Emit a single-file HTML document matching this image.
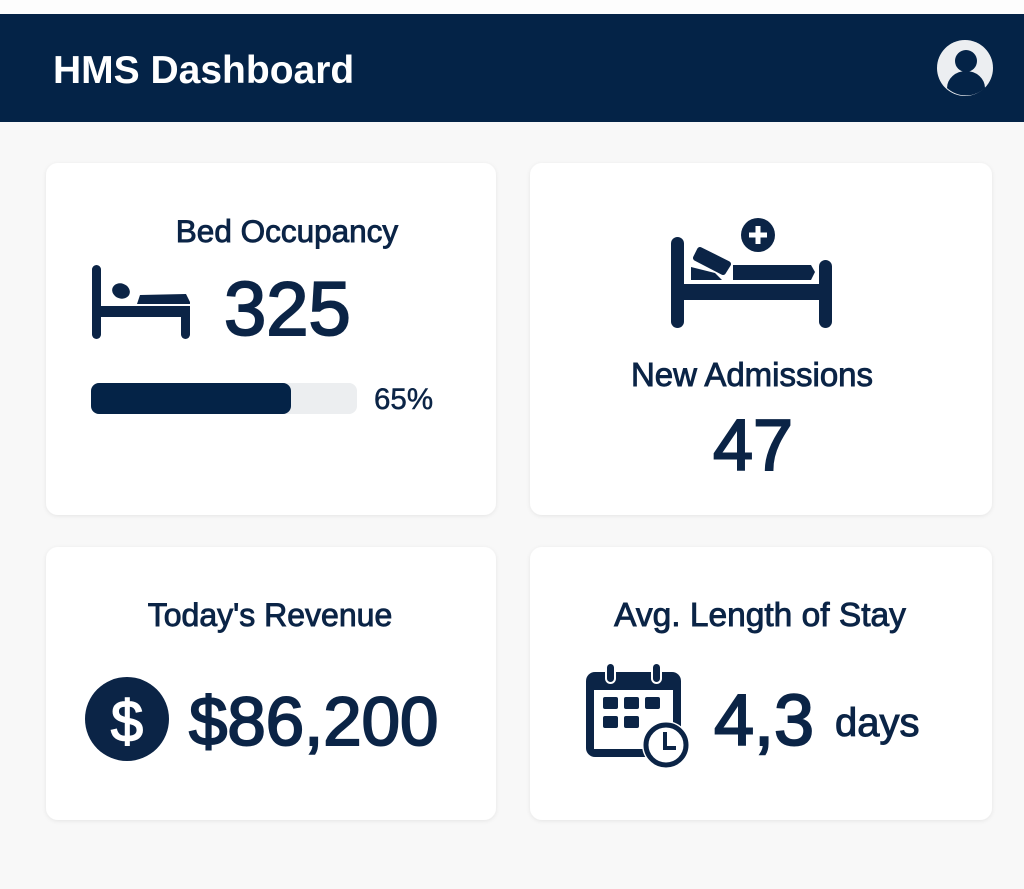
<!DOCTYPE html>
<html><head><meta charset="utf-8"><style>
html,body{margin:0;padding:0;background:#f8f8f8;}
svg{display:block}
text{font-family:"Liberation Sans",Arial,sans-serif;fill:#0b2446;stroke:#0b2446;stroke-width:0.9}
</style></head><body>
<svg width="1024" height="889" viewBox="0 0 1024 889" xmlns="http://www.w3.org/2000/svg">
<defs>
<filter id="sh" x="-5%" y="-5%" width="110%" height="110%"><feDropShadow dx="0" dy="1" stdDeviation="2" flood-color="#000" flood-opacity="0.08"/></filter>
</defs>
<rect width="1024" height="889" fill="#f8f8f8"/>
<rect x="0" y="0" width="1024" height="14" fill="#fdfdfd"/>
<rect x="0" y="14" width="1024" height="108" fill="#042347"/>
<text x="53" y="83" font-size="39" font-weight="bold" style="fill:#fff;stroke:none">HMS Dashboard</text>
<circle cx="965" cy="68" r="28" fill="#eceef1"/>
<circle cx="966" cy="61" r="11" fill="#042347"/>
<path d="M947 88 A19 17 0 0 1 985 88 A28 28 0 0 1 947 88Z" fill="#042347"/>

<g filter="url(#sh)" fill="#fff">
<rect x="46" y="163" width="450" height="352" rx="12"/>
<rect x="530" y="163" width="462" height="352" rx="12"/>
<rect x="46" y="547" width="450" height="273" rx="12"/>
<rect x="530" y="547" width="462" height="273" rx="12"/>
</g>

<!-- card 1 -->
<text x="287" y="242" font-size="31.5" text-anchor="middle">Bed Occupancy</text>
<g fill="#0b2446">
<rect x="92" y="265" width="9" height="74" rx="4.5"/>
<rect x="92" y="306" width="98" height="11"/>
<rect x="181" y="306" width="9" height="33" rx="4.5"/>
<ellipse cx="121" cy="291" rx="9" ry="7.5" transform="rotate(20 121 291)"/>
<path d="M137 304 L140 295 L186 294 L190 302 L190 304Z"/>
</g>
<text x="224" y="335" font-size="76" style="stroke-width:2">325</text>
<rect x="91" y="383" width="266" height="31" rx="8" fill="#eceef0"/>
<rect x="91" y="383" width="200" height="31" rx="8" fill="#042347"/>
<text x="374" y="409" font-size="29.5" style="stroke-width:0.5">65%</text>

<!-- card 2 -->
<g fill="#0b2446">
<rect x="671" y="237" width="13" height="91" rx="6.5"/>
<rect x="819" y="260" width="13" height="68" rx="6.5"/>
<rect x="671" y="284" width="161" height="16"/>
<path d="M733 265 L811 265 L815 272 L811 280 L733 280Z"/>
<path d="M691 267 L691 280 L722 280 L715 273Z"/>
<path d="M700 250 L728 264 L723 272 L696 258Z" stroke="#0b2446" stroke-width="6" stroke-linejoin="round"/>
<circle cx="758" cy="235" r="17"/>
</g>
<path d="M758 226 V244 M749 235 H767" stroke="#fff" stroke-width="5"/>
<text x="752" y="386" font-size="33" text-anchor="middle">New Admissions</text>
<text x="753" y="470" font-size="72" text-anchor="middle" style="stroke-width:2">47</text>

<!-- card 3 -->
<text x="270" y="626" font-size="32" text-anchor="middle">Today's Revenue</text>
<circle cx="127" cy="719" r="42" fill="#0b2446"/>
<text x="127" y="741" font-size="58" text-anchor="middle" style="fill:#fff;stroke:#fff;stroke-width:1.5">$</text>
<text x="189" y="745" font-size="69" style="stroke-width:2">$86,200</text>

<!-- card 4 -->
<text x="760" y="626" font-size="33.5" text-anchor="middle">Avg. Length of Stay</text>
<g>
<rect x="586" y="672" width="95" height="85" rx="9" fill="#0b2446"/>
<rect x="594" y="690" width="79" height="59" fill="#fff"/>
<rect x="606" y="663" width="9" height="20" rx="4.5" fill="#0b2446" stroke="#fff" stroke-width="2"/>
<rect x="652" y="663" width="9" height="20" rx="4.5" fill="#0b2446" stroke="#fff" stroke-width="2"/>
<g fill="#0b2446">
<rect x="603" y="697" width="15" height="12" rx="2"/>
<rect x="624" y="697" width="15" height="12" rx="2"/>
<rect x="645" y="697" width="15" height="12" rx="2"/>
<rect x="603" y="716" width="15" height="12" rx="2"/>
<rect x="624" y="716" width="15" height="12" rx="2"/>
</g>
<circle cx="666" cy="745" r="24" fill="#fff"/>
<circle cx="666" cy="745" r="20" fill="#fff" stroke="#0b2446" stroke-width="5"/>
<path d="M665 732 V748 H676" fill="none" stroke="#0b2446" stroke-width="4"/>
</g>
<text x="714" y="745" font-size="72" style="stroke-width:2">4,3</text>
<text x="835" y="736" font-size="40" style="stroke-width:1">days</text>
</svg>
</body></html>
